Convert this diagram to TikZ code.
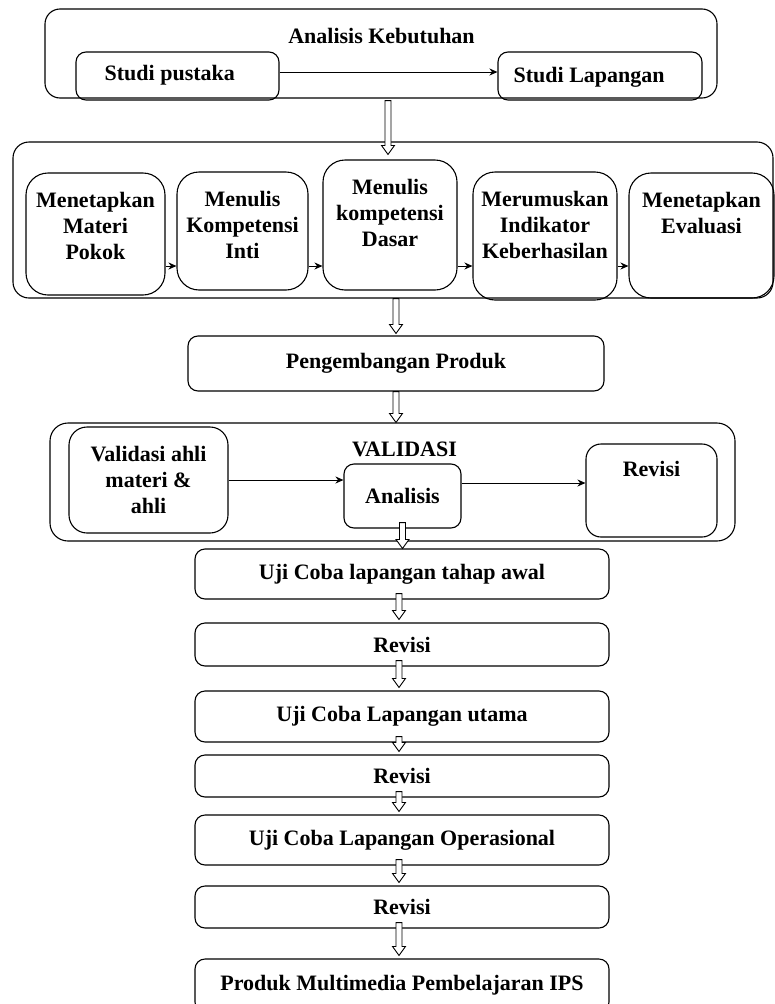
\documentclass[tikz,border=0pt]{standalone}
\usepackage{fontspec}
\setmainfont{Liberation Serif}
\usetikzlibrary{arrows.meta,calc}

\tikzset{
  box/.style={draw, rounded corners=#1, line width=1.1pt, inner sep=0pt, align=center},
  box/.default=10pt,
  intext/.style={anchor=north, align=center, inner sep=0pt, yshift=-20pt},
  link/.style={-{Stealth[length=8pt,width=7pt]}, line width=1pt},
  hollow/.style={draw, fill=white, line width=0.9pt, to path={
      ([xshift=-3pt]\tikztostart) -- ([xshift=-3pt,yshift=9pt]\tikztotarget)
      -- ([xshift=-6.5pt,yshift=9pt]\tikztotarget) -- (\tikztotarget)
      -- ([xshift=6.5pt,yshift=9pt]\tikztotarget) -- ([xshift=3pt,yshift=9pt]\tikztotarget)
      -- ([xshift=3pt]\tikztostart) -- cycle}}
}

\begin{document}
\begin{tikzpicture}[x=1pt,y=-1pt,font=\fontsize{22}{26}\selectfont\bfseries]
    \useasboundingbox (0,0) rectangle (774,1004);

    \node[box=15pt, minimum width=672pt, minimum height=89pt] (needs) at (381,53.5) {};
    \node[anchor=base] (needst) at (381.5,43) {Analisis Kebutuhan};
    \node[box, minimum width=203pt, minimum height=48pt,
      label={[anchor=base west, inner sep=0pt, xshift=29pt, yshift=-4pt]west:Studi pustaka}] (sp) at (177.5,76) {};
    \node[box, minimum width=204pt, minimum height=48pt,
      label={[anchor=base west, inner sep=0pt, xshift=16pt, yshift=-6pt]west:Studi Lapangan}] (sl) at (600,76) {};
    \draw[link] ([yshift=4pt]sp.east) -- ([yshift=4pt]sl.west);

    \node[box=16pt, minimum width=760pt, minimum height=156pt] (row) at (393,220) {};
    \node[box=22pt, minimum width=139pt, minimum height=122pt,
      label={[intext]north:Menetapkan\\Materi\\Pokok}] (mat) at (95.5,234) {};
    \node[box=22pt, minimum width=131pt, minimum height=118pt,
      label={[intext]north:Menulis\\Kompetensi\\Inti}] (ki) at (242.5,231) {};
    \node[box=22pt, minimum width=134pt, minimum height=130pt,
      label={[intext]north:Menulis\\kompetensi\\Dasar}] (kd) at (390,225) {};
    \node[box=22pt, minimum width=144pt, minimum height=128pt,
      label={[intext]north:Merumuskan\\Indikator\\Keberhasilan}] (ind) at (545,236) {};
    \node[box=22pt, minimum width=145pt, minimum height=125pt,
      label={[intext]north:Menetapkan\\Evaluasi}] (eva) at (701.5,235.5) {};
    \coordinate (rowline) at (0,266);
    \foreach \a/\b in {mat/ki, ki/kd, kd/ind, ind/eva}
      \draw[link] (\a.east |- rowline) -- (\b.west |- rowline);

    \node[box, minimum width=416pt, minimum height=55pt] (dev) at (396,363.5) {Pengembangan Produk};

    \node[box=18pt, minimum width=685pt, minimum height=118pt] (valouter) at (392.5,482) {};
    \node[anchor=base] (valt) at (404.5,456) {VALIDASI};
    \node[box=18pt, minimum width=159pt, minimum height=106pt] (val) at (148.5,480) {Validasi ahli\\materi \&\\ahli};
    \node[box, minimum width=117pt, minimum height=64pt] (ana) at (402.5,496) {Analisis};
    \node[box=15pt, minimum width=131pt, minimum height=93pt,
      label={[intext, yshift=2pt]north:Revisi}] (rev) at (651.5,490.5) {};
    \draw[link] (val.east) -- (val.east -| ana.west);
    \coordinate (anarev) at ($(ana.east)+(0,-13)$);
    \draw[link] (anarev) -- (anarev -| rev.west);

    \node[box, minimum width=414pt, minimum height=50pt] (u1) at (402,574) {Uji Coba lapangan tahap awal};
    \node[box, minimum width=414pt, minimum height=43pt] (r1) at (402,644.5) {Revisi};
    \node[box, minimum width=414pt, minimum height=51pt] (u2) at (402,716.5) {Uji Coba Lapangan utama};
    \node[box, minimum width=414pt, minimum height=42pt] (r2) at (402,776) {Revisi};
    \node[box, minimum width=414pt, minimum height=50pt] (u3) at (402,840) {Uji Coba Lapangan Operasional};
    \node[box, minimum width=414pt, minimum height=42pt] (r3) at (402,907) {Revisi};
    \node[box, minimum width=414pt, minimum height=53pt] (prod) at (402,985.5) {Produk Multimedia Pembelajaran IPS};

    \draw[hollow] ([xshift=7pt,yshift=-2pt]needs.south) to ([xshift=-5pt,yshift=-13pt]row.north);
    \draw[hollow] (row.south -| dev.north) to ([yshift=2pt]dev.north);
    \draw[hollow] (dev.south) to (dev.south |- valouter.north);
    \coordinate (anaout) at ($(ana.south)+(0,-6)$);
    \draw[hollow] (anaout) to (ana.south |- u1.north);
    \foreach \a/\b in {u1/r1, r1/u2, u2/r2, r2/u3, u3/r3, r3/prod}
      \draw[hollow] ([xshift=-3pt,yshift=6pt]\a.south) to ([xshift=-3pt,yshift=3pt]\b.north);
  \end{tikzpicture}
\end{document}
